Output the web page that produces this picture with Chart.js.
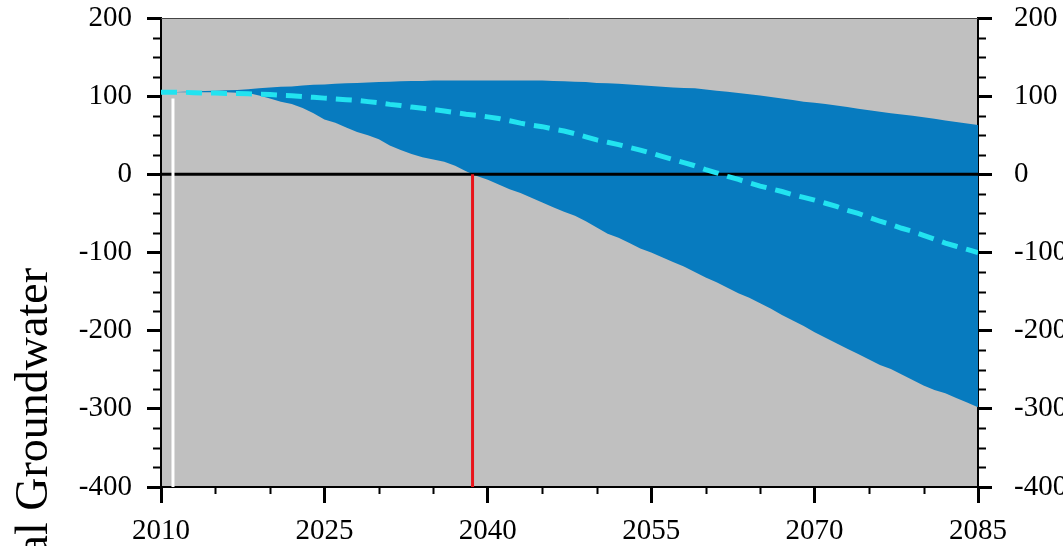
<!DOCTYPE html>
<html>
<head>
<meta charset="utf-8">
<script src="https://cdn.jsdelivr.net/npm/chart.js@4"></script>
<style>
  html, body { margin: 0; padding: 0; background: #fff; }
  #wrap { width: 1063px; height: 546px; }
</style>
</head>
<body>
<div id="wrap"><canvas id="chart" width="1063" height="546"></canvas></div>
<script>
// années 2010 -> 2085
const years = [
  2010, 2011, 2012, 2013, 2014, 2015, 2016, 2017, 2018, 2019,
  2020, 2021, 2022, 2023, 2024, 2025, 2026, 2027, 2028, 2029,
  2030, 2031, 2032, 2033, 2034, 2035, 2036, 2037, 2038, 2039,
  2040, 2041, 2042, 2043, 2044, 2045, 2046, 2047, 2048, 2049,
  2050, 2051, 2052, 2053, 2054, 2055, 2056, 2057, 2058, 2059,
  2060, 2061, 2062, 2063, 2064, 2065, 2066, 2067, 2068, 2069,
  2070, 2071, 2072, 2073, 2074, 2075, 2076, 2077, 2078, 2079,
  2080, 2081, 2082, 2083, 2084, 2085
];

// borne haute de l'enveloppe
const upperBound = [
  105, 105, 105.5, 106, 106.5, 107, 107.5, 108, 109, 110,
  111, 112, 112.5, 113.5, 114.5, 115, 116, 116.5, 117, 117.5,
  118, 118.5, 119, 119.5, 119.5, 120, 120, 120, 120, 120,
  120, 120, 120, 120, 120, 120, 119.5, 119, 118.5, 118,
  117, 116.5, 116, 115, 114, 113, 112, 111, 110.5, 110,
  108.5, 107, 105.5, 104, 102.5, 101, 99, 97, 95, 93,
  91.5, 90, 88, 86, 84, 82, 80, 78, 76.5, 75,
  73, 71, 69, 67, 65, 63
];

// borne basse de l'enveloppe
const lowerBound = [
  105, 105, 105, 105, 105, 105, 105, 104.5, 104, 101,
  97, 93, 90, 85, 78, 70, 66, 60, 54, 50,
  45, 37, 31, 26, 22, 19, 16, 11, 4, -2,
  -7, -13, -19, -24, -30, -36, -42, -48, -53, -60,
  -68, -76, -81, -88, -95, -100, -106, -112, -118, -125,
  -132, -138, -145, -152, -158, -165, -172, -180, -187, -194,
  -202, -209, -216, -223, -230, -237, -244, -249, -256, -263,
  -270, -276, -280, -286, -292, -298
];

// médiane (trait pointillé)
const median = [
  105, 105, 105, 104.5, 104, 104, 103.5, 103.5, 103, 102.5,
  102, 101, 100.5, 99.5, 98.5, 97.5, 96.5, 95.5, 94.5, 93,
  91.5, 89.5, 88, 86, 84.5, 83, 81, 79, 77, 75.5,
  73.5, 71.5, 68.5, 65.5, 63, 61, 58, 55.5, 52, 48,
  44, 41, 38, 34.5, 31, 27, 23, 19, 15, 11,
  6, 2, -2.5, -6.5, -11, -15, -18.5, -22, -26, -29.5,
  -33, -37, -41, -46, -50, -55, -60, -64, -69, -73,
  -78, -83, -88, -92, -96, -100
];

// repères verticaux
const redLineYear = 2038.6;
const whiteLineYear = 2011.1;
const whiteLineTop = 97;

const xTicks = { min: 2010, max: 2085, step: 15, minorStep: 5 };
const yTicks = { min: -400, max: 200, step: 100, minorStep: 25 };
const yTitle = 'al Groundwater';

const toPoints = (vals) => vals.map((v, i) => ({ x: years[i], y: v }));

const serif = 'Liberation Serif, Times New Roman, serif';

// pas de marge supplémentaire pour les étiquettes débordantes
const noOverflow = (w, h) => (s) => {
  if (w) s.width = w;
  if (h) s.height = h;
  s.paddingTop = 0; s.paddingBottom = 0;
  s.paddingLeft = 0; s.paddingRight = 0;
};

// fond gris de la zone de tracé + petites graduations + titre de l'axe
const backgroundPlugin = {
  id: 'background',
  beforeDraw(chart) {
    const { ctx, chartArea: a } = chart;
    ctx.save();
    ctx.fillStyle = '#c0c0c0';
    ctx.fillRect(a.left, a.top, a.right - a.left, a.bottom - a.top);
    ctx.restore();
  },
  afterDraw(chart) {
    const { ctx, chartArea: a } = chart;
    const x = chart.scales.x, y = chart.scales.y;
    ctx.save();
    ctx.strokeStyle = '#000';
    ctx.lineWidth = 2;
    ctx.beginPath();
    for (let v = yTicks.min; v <= yTicks.max; v += yTicks.minorStep) {
      if (v % yTicks.step === 0) continue;
      const py = Math.round(y.getPixelForValue(v)) + 0.5;
      ctx.moveTo(a.left - 8, py); ctx.lineTo(a.left, py);
      ctx.moveTo(a.right, py); ctx.lineTo(a.right + 8, py);
    }
    for (let v = xTicks.min; v <= xTicks.max; v += xTicks.minorStep) {
      if ((v - xTicks.min) % xTicks.step === 0) continue;
      const px = Math.round(x.getPixelForValue(v)) + 0.5;
      ctx.moveTo(px, a.bottom); ctx.lineTo(px, a.bottom + 7);
    }
    ctx.stroke();
    // bord du haut
    ctx.strokeStyle = '#444';
    ctx.lineWidth = 1;
    ctx.beginPath();
    ctx.moveTo(a.left, a.top + 0.5); ctx.lineTo(a.right, a.top + 0.5);
    ctx.stroke();
    // titre vertical (coupé en bas)
    ctx.translate(47, 268);
    ctx.rotate(-Math.PI / 2);
    ctx.fillStyle = '#000';
    ctx.font = '46px ' + serif;
    ctx.textAlign = 'right';
    ctx.textBaseline = 'alphabetic';
    ctx.fillText(yTitle, 0, 0);
    ctx.restore();
  }
};

const ctx = document.getElementById('chart').getContext('2d');
new Chart(ctx, {
  type: 'line',
  data: {
    datasets: [
      {
        label: 'lower',
        data: toPoints(lowerBound),
        borderWidth: 0,
        borderColor: 'rgba(0,0,0,0)',
        pointRadius: 0,
        fill: false,
        order: 10
      },
      {
        label: 'upper',
        data: toPoints(upperBound),
        borderWidth: 0,
        borderColor: 'rgba(0,0,0,0)',
        backgroundColor: '#077bbf',
        pointRadius: 0,
        fill: 0,
        order: 9
      },
      {
        label: 'zero',
        data: [{ x: xTicks.min, y: 0 }, { x: xTicks.max, y: 0 }],
        borderColor: '#000',
        borderWidth: 3,
        pointRadius: 0,
        order: 5
      },
      {
        label: 'red',
        data: [{ x: redLineYear, y: 0 }, { x: redLineYear, y: yTicks.min }],
        borderColor: '#e8141b',
        borderWidth: 3,
        pointRadius: 0,
        order: 4
      },
      {
        label: 'white',
        data: [{ x: whiteLineYear, y: whiteLineTop }, { x: whiteLineYear, y: yTicks.min }],
        borderColor: '#ffffff',
        borderWidth: 3,
        pointRadius: 0,
        order: 3
      },
      {
        label: 'median',
        data: toPoints(median),
        borderColor: '#22e3f0',
        borderWidth: 5,
        borderDash: [16, 9],
        pointRadius: 0,
        fill: false,
        order: 1
      }
    ]
  },
  options: {
    responsive: false,
    animation: false,
    layout: { padding: { top: 18, left: 0, right: 0, bottom: 0 } },
    plugins: {
      legend: { display: false },
      tooltip: { enabled: false },
      filler: { drawTime: 'beforeDatasetsDraw' }
    },
    scales: {
      x: {
        type: 'linear',
        min: xTicks.min,
        max: xTicks.max,
        afterFit: noOverflow(0, 59),
        ticks: {
          stepSize: xTicks.step,
          color: '#000',
          font: { family: serif, size: 29 },
          padding: 11,
          maxRotation: 0,
          callback: (v) => String(v)
        },
        grid: { drawOnChartArea: false, tickLength: 16, tickWidth: 3, tickColor: '#000' },
        border: { display: true, color: '#000', width: 2 }
      },
      y: {
        position: 'left',
        min: yTicks.min,
        max: yTicks.max,
        afterFit: noOverflow(161, 0),
        ticks: {
          stepSize: yTicks.step,
          color: '#000',
          font: { family: serif, size: 29 },
          padding: 15
        },
        grid: { drawOnChartArea: false, tickLength: 14, tickWidth: 3, tickColor: '#000' },
        border: { display: true, color: '#000', width: 2 }
      },
      y2: {
        position: 'right',
        min: yTicks.min,
        max: yTicks.max,
        afterFit: noOverflow(85, 0),
        ticks: {
          stepSize: yTicks.step,
          color: '#000',
          font: { family: serif, size: 29 },
          padding: 22
        },
        grid: { drawOnChartArea: false, tickLength: 14, tickWidth: 3, tickColor: '#000' },
        border: { display: true, color: '#000', width: 2 }
      }
    }
  },
  plugins: [backgroundPlugin]
});
</script>
</body>
</html>
